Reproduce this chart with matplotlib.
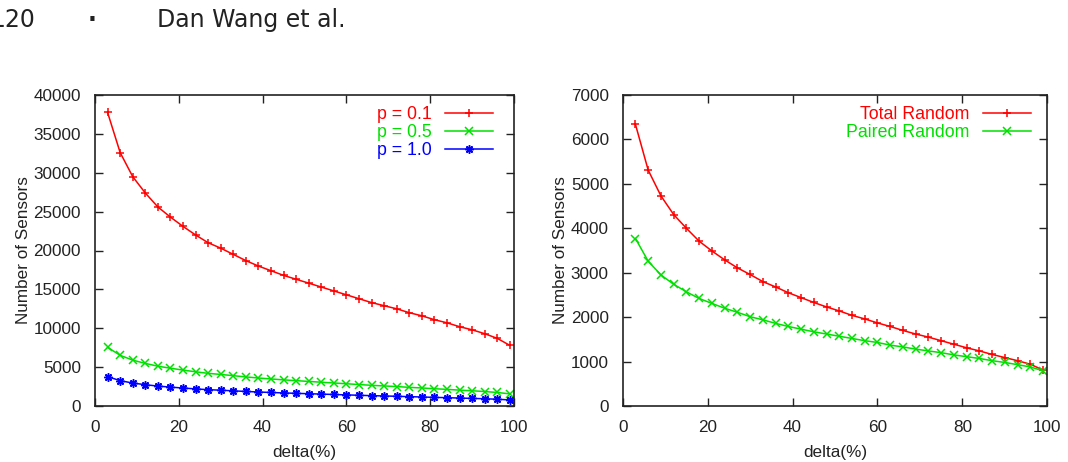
import matplotlib
matplotlib.use("Agg")
import matplotlib.pyplot as plt

# ---- data ----
delta = list(range(3, 100, 3))  # 3, 6, ..., 99

p01 = [37760, 32600, 29500, 27400, 25600, 24300, 23100, 22000, 21000, 20300,
       19500, 18700, 18000, 17400, 16800, 16300, 15800, 15300, 14800, 14300,
       13800, 13300, 12900, 12500, 12000, 11600, 11100, 10700, 10200, 9800,
       9300, 8700, 7800]
p05 = [7550, 6520, 5900, 5480, 5120, 4860, 4620, 4400, 4200, 4060,
       3900, 3740, 3600, 3480, 3360, 3260, 3160, 3060, 2960, 2860,
       2760, 2660, 2580, 2500, 2400, 2320, 2220, 2140, 2040, 1960,
       1860, 1740, 1560]
p10 = [3780, 3260, 2950, 2740, 2560, 2430, 2310, 2200, 2100, 2030,
       1950, 1870, 1800, 1740, 1680, 1630, 1580, 1530, 1480, 1430,
       1380, 1330, 1290, 1250, 1200, 1160, 1110, 1070, 1020, 980,
       930, 870, 780]

total_random = [6340, 5310, 4730, 4310, 4000, 3710, 3490, 3290, 3110, 2960,
                2800, 2680, 2550, 2440, 2330, 2230, 2140, 2040, 1960, 1870,
                1790, 1700, 1620, 1550, 1470, 1390, 1310, 1240, 1160, 1090,
                1020, 940, 810]
paired_random = [3770, 3260, 2950, 2740, 2570, 2420, 2310, 2200, 2110, 2010,
                 1940, 1860, 1790, 1730, 1670, 1620, 1570, 1520, 1470, 1430,
                 1370, 1330, 1280, 1240, 1200, 1150, 1110, 1070, 1020, 980,
                 930, 880, 790]

RED, GREEN, BLUE = "#ff0000", "#00e000", "#0000ff"
W, H = 1068, 462
FS = 12.3

plt.rcParams["font.family"] = ["Liberation Sans", "DejaVu Sans"]
plt.rcParams["font.size"] = FS

fig = plt.figure(figsize=(W / 100, H / 100), dpi=100)

# page header (page number is clipped at the left edge, as in the scan)
fig.text(35 / W, 1 - 27 / H, "120", ha="right", va="baseline",
         fontsize=17, family="DejaVu Sans", color="#222222")
fig.text(92 / W, 1 - 27 / H, "\u00b7", ha="center", va="baseline",
         fontsize=17, family="DejaVu Sans", color="#222222", weight="bold")
fig.text(157 / W, 1 - 27 / H, "Dan Wang et al.", ha="left", va="baseline",
         fontsize=17, family="DejaVu Sans", color="#222222")


def style_axes(ax, ymax, ystep):
    ax.set_xlim(0, 100)
    ax.set_ylim(0, ymax)
    ax.set_xticks(range(0, 101, 20))
    ax.set_yticks(range(0, ymax + 1, ystep))
    ax.tick_params(direction="in", length=6, width=1, top=True, right=True,
                   labelsize=FS, colors="#222222")
    ax.tick_params(axis="x", pad=10)
    ax.tick_params(axis="y", pad=10)
    for s in ax.spines.values():
        s.set_linewidth(1.2)
        s.set_color("#222222")
    ax.set_xlabel("delta(%)", fontsize=FS, labelpad=7, color="#222222")
    ax.set_ylabel("Number of Sensors", fontsize=FS, labelpad=2, color="#222222")


line_kw = dict(linewidth=1.1, markersize=6, markeredgewidth=1.1)
leg_kw = dict(loc="upper right", frameon=False, markerfirst=False,
              labelcolor="linecolor", handlelength=2.7, handletextpad=0.75,
              labelspacing=0.05, borderaxespad=0.4, fontsize=FS + 0.5)

# left panel
ax1 = fig.add_axes([95 / W, 56 / H, 419 / W, 311 / H])
ax1.plot(delta, p01, color=RED, marker="+", label="p = 0.1", **line_kw)
ax1.plot(delta, p05, color=GREEN, marker="x", label="p = 0.5", **line_kw)
ax1.plot(delta, p10, color=BLUE, marker=(8, 2, 0), label="p = 1.0", **line_kw)
style_axes(ax1, 40000, 5000)
ax1.legend(bbox_to_anchor=(0.983, 1.01), **leg_kw)

# right panel
ax2 = fig.add_axes([622.7 / W, 56 / H, 424.6 / W, 311 / H])
ax2.plot(delta, total_random, color=RED, marker="+", label="Total Random", **line_kw)
ax2.plot(delta, paired_random, color=GREEN, marker="x", label="Paired Random", **line_kw)
style_axes(ax2, 7000, 1000)
ax2.legend(bbox_to_anchor=(0.995, 1.01), **leg_kw)

fig.savefig("out.png", dpi=100)
